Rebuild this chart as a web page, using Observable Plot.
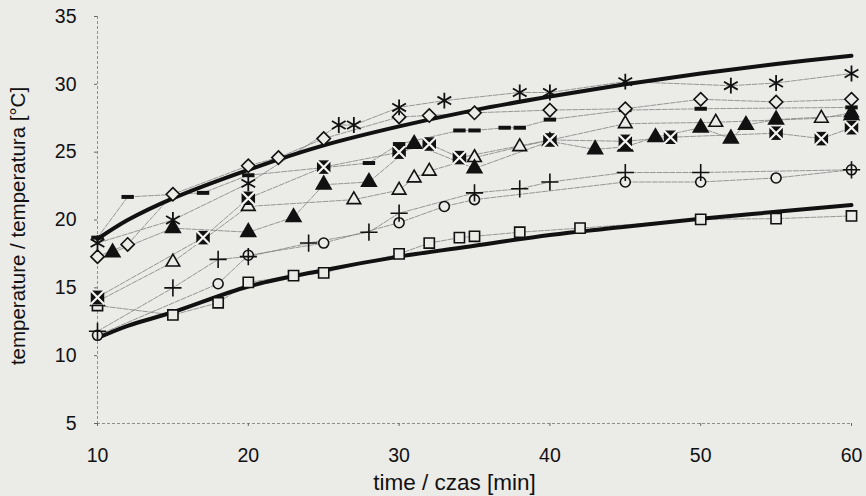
<!DOCTYPE html>
<html>
<head>
<meta charset="utf-8">
<script src="https://cdn.jsdelivr.net/npm/d3@7"></script>
<script src="https://cdn.jsdelivr.net/npm/@observablehq/plot@0.6"></script>
<style>
  html, body { margin: 0; padding: 0; background: #ebebe8; }
  #chart { width: 866px; height: 496px; }
</style>
</head>
<body>
<div id="chart"></div>
<script>
// Upper and lower envelope curves (thick)
const tUpper = [10, 12, 15, 20, 25, 30, 35, 40, 45, 50, 55, 60];
const vUpper = [18.6, 20.0, 21.6, 23.7, 25.5, 26.9, 28.1, 29.1, 30.0, 30.8, 31.5, 32.1];
const tLower = [10, 12, 15, 20, 25, 30, 35, 40, 45, 50, 55, 60];
const vLower = [11.3, 12.2, 13.2, 15.1, 16.3, 17.3, 18.1, 18.9, 19.5, 20.1, 20.6, 21.1];

// Measured series
const tDiamond = [10, 12, 15, 20, 22, 25, 30, 32, 35, 40, 45, 50, 55, 60];
const vDiamond = [17.3, 18.2, 21.9, 24.0, 24.6, 26.0, 27.6, 27.7, 27.9, 28.1, 28.2, 28.9, 28.7, 28.9];
const tAsterisk = [10, 15, 20, 26, 27, 30, 33, 38, 40, 45, 52, 55, 60];
const vAsterisk = [18.3, 20.0, 22.7, 27.0, 27.0, 28.3, 28.8, 29.4, 29.4, 30.2, 29.9, 30.1, 30.8];
const tDash = [10, 12, 17, 20, 28, 30, 34, 35, 37, 38, 40, 45, 50, 60];
const vDash = [18.7, 21.7, 22.0, 23.3, 24.2, 25.6, 26.6, 26.6, 26.8, 26.8, 27.4, 28.1, 28.2, 28.3];
const tTriOpen = [10, 15, 20, 27, 30, 31, 32, 35, 38, 45, 51, 58, 60];
const vTriOpen = [14.0, 16.9, 21.0, 21.5, 22.2, 23.1, 23.6, 24.6, 25.4, 27.1, 27.2, 27.5, 27.9];
const tTriFill = [11, 15, 20, 23, 25, 28, 31, 35, 40, 43, 45, 47, 50, 52, 53, 55, 60];
const vTriFill = [17.6, 19.4, 19.1, 20.2, 22.6, 22.8, 25.6, 23.8, 25.8, 25.2, 25.4, 26.1, 26.8, 26.0, 27.0, 27.4, 27.7];
const tBoxX = [10, 17, 20, 25, 30, 32, 34, 40, 45, 48, 55, 58, 60];
const vBoxX = [14.3, 18.7, 21.6, 23.9, 25.0, 25.6, 24.6, 25.9, 25.8, 26.1, 26.4, 26.0, 26.8];
const tPlus = [10, 15, 18, 20, 24, 28, 30, 35, 38, 40, 45, 50, 60];
const vPlus = [11.8, 15.0, 17.1, 17.3, 18.3, 19.1, 20.5, 22.0, 22.3, 22.8, 23.5, 23.5, 23.7];
const tCircle = [10, 18, 20, 25, 30, 33, 35, 45, 50, 55, 60];
const vCircle = [11.5, 15.3, 17.4, 18.3, 19.8, 21.0, 21.5, 22.8, 22.8, 23.1, 23.7];
const tSquare = [10, 15, 18, 20, 23, 25, 30, 32, 34, 35, 38, 42, 50, 55, 60];
const vSquare = [13.7, 13.0, 13.9, 15.4, 15.9, 16.1, 17.5, 18.3, 18.7, 18.8, 19.1, 19.4, 20.05, 20.1, 20.3];

// Axis ticks
const xTicks = [10, 20, 30, 40, 50, 60];
const yTicks = [5, 10, 15, 20, 25, 30, 35];
const xTitle = "time / czas [min]";
const yTitle = "temperature / temperatura [°C]";

const pts = (ts, vs) => ts.map((t, i) => ({t, v: vs[i]}));
const upper = pts(tUpper, vUpper);
const lower = pts(tLower, vLower);
const diamond = pts(tDiamond, vDiamond);
const asterisk = pts(tAsterisk, vAsterisk);
const dash = pts(tDash, vDash);
const triOpen = pts(tTriOpen, vTriOpen);
const triFill = pts(tTriFill, vTriFill);
const boxX = pts(tBoxX, vBoxX);
const plus = pts(tPlus, vPlus);
const circle = pts(tCircle, vCircle);
const square = pts(tSquare, vSquare);

const dashSymbol = {
  draw(ctx, size) {
    const w = Math.sqrt(size) * 1.0, h = w * 0.32;
    ctx.rect(-w / 2, -h / 2, w, h);
  }
};

const thin = {x: "t", y: "v", stroke: "#808080", strokeWidth: 0.8, strokeDasharray: "5,1.5"};
const series = [diamond, asterisk, dash, triOpen, triFill, boxX, plus, circle, square];

const plot = Plot.plot({
  width: 866,
  height: 496,
  marginLeft: 97,
  marginRight: 15,
  marginTop: 16,
  marginBottom: 73,
  style: {background: "#ebebe8", fontFamily: "Liberation Sans, Arial, sans-serif", fontSize: "19px", color: "#111"},
  x: {domain: [10, 60], ticks: xTicks, label: null},
  y: {domain: [5, 35], ticks: yTicks, label: null},
  marks: [
    Plot.ruleX([10], {stroke: "#777", strokeWidth: 0.8, strokeDasharray: "3,2"}),
    Plot.ruleY([5], {stroke: "#777", strokeWidth: 0.8, strokeDasharray: "3,2"}),
    Plot.axisX({ticks: xTicks, tickSize: 3, tickPadding: 22, fontSize: 19.5, stroke: "#666"}),
    Plot.axisY({ticks: yTicks, tickSize: 3, tickPadding: 18, fontSize: 19.5, stroke: "#666"}),
    ...series.map(s => Plot.line(s, thin)),
    Plot.line(upper, {x: "t", y: "v", stroke: "#111", strokeWidth: 4, curve: "catmull-rom"}),
    Plot.line(lower, {x: "t", y: "v", stroke: "#111", strokeWidth: 4, curve: "catmull-rom"}),
    Plot.dot(square, {x: "t", y: "v", symbol: "square2", r: 6.5, stroke: "#111", strokeWidth: 1.6, fill: "#ebebe8"}),
    Plot.dot(circle, {x: "t", y: "v", symbol: "circle", r: 5, stroke: "#111", strokeWidth: 1.6, fill: "#ebebe8"}),
    Plot.dot(plus, {x: "t", y: "v", symbol: "plus", r: 5.6, stroke: "#111", strokeWidth: 1.6}),
    Plot.dot(triOpen, {x: "t", y: "v", symbol: "triangle2", r: 6.5, stroke: "#111", strokeWidth: 1.6, fill: "#ebebe8"}),
    Plot.dot(triFill, {x: "t", y: "v", symbol: "triangle", r: 6.5, fill: "#111", stroke: "none"}),
    Plot.dot(boxX, {x: "t", y: "v", symbol: "square", r: 7.6, fill: "#111", stroke: "none"}),
    Plot.dot(boxX, {x: "t", y: "v", symbol: "times", r: 6.5, stroke: "#f4f4f2", strokeWidth: 2.2}),
    Plot.dot(dash, {x: "t", y: "v", symbol: dashSymbol, r: 7, fill: "#111", stroke: "none"}),
    Plot.dot(diamond, {x: "t", y: "v", symbol: "diamond2", r: 6, stroke: "#111", strokeWidth: 1.6, fill: "#ebebe8"}),
    Plot.dot(asterisk, {x: "t", y: "v", symbol: "asterisk", r: 7.5, stroke: "#111", strokeWidth: 1.8}),
    Plot.text([xTitle], {frameAnchor: "bottom", dy: 66, dx: -20, fontSize: 22.5, fill: "#111", text: d => d}),
    Plot.text([yTitle], {frameAnchor: "left", dx: -79, dy: 6, rotate: -90, textAnchor: "middle", fontSize: 20.5, fill: "#111", text: d => d})
  ]
});
document.getElementById("chart").appendChild(plot);
</script>
</body>
</html>
